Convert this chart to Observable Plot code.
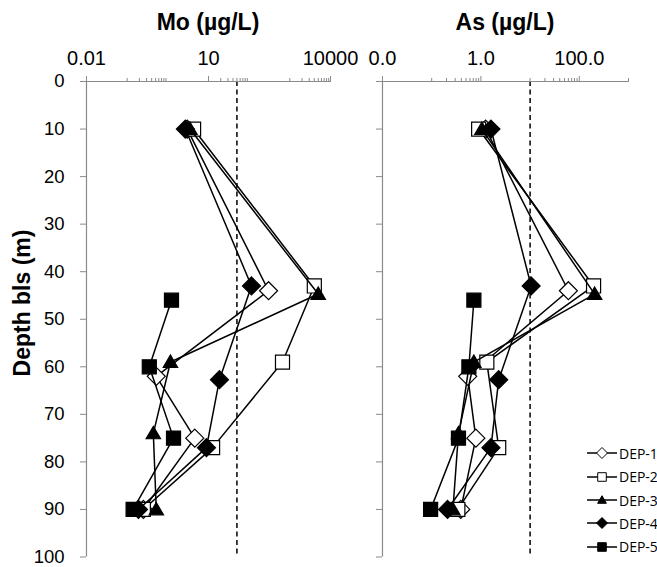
<!DOCTYPE html>
<html><head><meta charset="utf-8">
<script src="https://cdn.jsdelivr.net/npm/d3@7"></script>
<script src="https://cdn.jsdelivr.net/npm/@observablehq/plot@0.6"></script>
<style>
body{margin:0;background:#fff;}
#wrap{position:relative;width:657px;height:567px;overflow:hidden;font-family:"Liberation Sans",Arial,sans-serif;color:#000;}
#wrap svg.chart{position:absolute;left:0;top:0;}
.title{position:absolute;font-weight:bold;font-size:23px;line-height:23px;white-space:nowrap;transform:translateX(-50%);}
.ylab{position:absolute;font-weight:bold;font-size:23px;line-height:23px;white-space:nowrap;left:22px;top:303px;transform:translate(-50%,-50%) rotate(-90deg);}
.leg{position:absolute;left:586px;height:16px;display:flex;align-items:center;font-family:"Open Sans",sans-serif;font-size:14px;white-space:nowrap;}
.leg svg{display:block;}
</style></head>
<body><div id="wrap"></div>
<script>
// ---- data ----
const seriesNames = ["DEP-1","DEP-2","DEP-3","DEP-4","DEP-5"];
const dep1Depth = [10, 44, 62, 75, 90];
const dep1Mo    = [3.0, 300, 0.52, 4.6, 0.25];
const dep1As    = [1.25, 60, 0.54, 0.79, 0.39];
const dep2Depth = [10, 43, 59, 77, 90];
const dep2Mo    = [4.3, 4000, 660, 12.6, 0.25];
const dep2As    = [0.9, 195, 1.32, 2.3, 0.34];
const dep3Depth = [10, 44.7, 59, 74, 90];
const dep3Mo    = [3.5, 5000, 1.16, 0.44, 0.52];
const dep3As    = [1.05, 205, 0.72, 0.35, 0.27];
const dep4Depth = [10, 43, 62.7, 77, 90];
const dep4Mo    = [2.7, 114, 18.6, 8.9, 0.19];
const dep4As    = [1.6, 10.5, 2.3, 1.6, 0.21];
const dep5Depth = [46, 60, 75, 90];
const dep5Mo    = [1.23, 0.35, 1.38, 0.14];
const dep5As    = [0.72, 0.57, 0.35, 0.095];

const depthTicks = [0,10,20,30,40,50,60,70,80,90,100];
const moTicks = [0.01, 10, 10000];
const moMinor = [0.1,0.2,0.3,0.4,0.5,0.6,0.7,0.8,0.9,20,30,40,50,60,70,80,90,1000,2000,3000,4000,5000,6000,7000,8000,9000];
const asTicks = [0.01, 1, 100];
const asMinor = [0.1,0.2,0.3,0.4,0.5,0.6,0.7,0.8,0.9,10,20,30,40,50,60,70,80,90,1000];
const moLimit = 50;
const asLimit = 10;

// ---- build rows ----
const depthArrs = [dep1Depth, dep2Depth, dep3Depth, dep4Depth, dep5Depth];
const moArrs = [dep1Mo, dep2Mo, dep3Mo, dep4Mo, dep5Mo];
const asArrs = [dep1As, dep2As, dep3As, dep4As, dep5As];
const rows = seriesNames.map((s, i) => depthArrs[i].map((d, j) => ({series: s, depth: d, mo: moArrs[i][j], as: asArrs[i][j]})));

// ---- symbols ----
const symDiamond = {draw(c, size){const r=Math.sqrt(size/Math.PI); c.moveTo(0,-r); c.lineTo(r,0); c.lineTo(0,r); c.lineTo(-r,0); c.closePath();}};
const symSquare = {draw(c, size){const r=Math.sqrt(size/Math.PI)*0.78; c.moveTo(-r,-r); c.lineTo(r,-r); c.lineTo(r,r); c.lineTo(-r,r); c.closePath();}};
const symTriangle = {draw(c, size){const r=Math.sqrt(size/Math.PI); c.moveTo(0,-0.78*r); c.lineTo(0.8*r,0.6*r); c.lineTo(-0.8*r,0.6*r); c.closePath();}};
const seriesSym = [symDiamond, symSquare, symTriangle, symDiamond, symSquare];
const seriesFill = ["white","white","black","black","black"];

const W = 657, H = 567;
const font = "Liberation Sans, Arial, sans-serif";

function panel(key, domain, ticks, minor, fmt, limit, left, right) {
  const marks = [
    Plot.ruleX([limit], {stroke:"black", strokeWidth:1.5, strokeDasharray:"5,3.5"}),
    Plot.ruleY([0], {stroke:"#8a8a8a", strokeWidth:1.2}),
    Plot.ruleX([domain[0]], {stroke:"#8a8a8a", strokeWidth:1.2}),
    Plot.axisY(depthTicks, {anchor:"left", tickSize:6, tickPadding:16, fontSize:18.5, stroke:"#8a8a8a", fill:"black", label:null,
      tickFormat: key === "mo" ? (d => String(d)) : (() => "")}),
    Plot.axisX(ticks, {anchor:"top", tickSize:6, tickPadding:11, fontSize:20, stroke:"#8a8a8a", fill:"black", label:null, tickFormat: fmt}),
    Plot.axisX(minor, {anchor:"top", tickSize:4, stroke:"#8a8a8a", label:null, tickFormat: () => ""})
  ];
  rows.forEach((r, i) => {
    marks.push(Plot.line(r, {x:key, y:"depth", stroke:"black", strokeWidth:1.5}));
    marks.push(Plot.dot(r, {x:key, y:"depth", r:9, symbol: seriesSym[i], fill: seriesFill[i], stroke:"black", strokeWidth:1.2}));
  });
  const svg = Plot.plot({
    width: W, height: H,
    marginLeft: left, marginRight: W - right, marginTop: 81, marginBottom: 10.5,
    style: {background:"transparent", overflow:"visible", fontFamily: font, color:"black"},
    x: {type:"log", domain},
    y: {domain:[0,100], reverse:true},
    marks
  });
  svg.classList.add("chart");
  return svg;
}

const wrap = document.getElementById("wrap");
wrap.appendChild(panel("mo", [0.01, 10000], moTicks, moMinor, d => String(d), moLimit, 86, 330));
wrap.appendChild(panel("as", [0.01, 1000], asTicks, asMinor, d => d.toFixed(1), asLimit, 382, 628));

function addDiv(cls, text, style) {
  const d = document.createElement("div");
  d.className = cls; d.textContent = text;
  Object.assign(d.style, style || {});
  wrap.appendChild(d);
  return d;
}
addDiv("title", "Mo (µg/L)", {left:"208px", top:"11px"});
addDiv("title", "As (µg/L)", {left:"505px", top:"11px"});
addDiv("ylab", "Depth bls (m)");

// legend
const legY = [453.3, 476.7, 500, 523.3, 546.7];
seriesNames.forEach((s, i) => {
  const d = document.createElement("div");
  d.className = "leg";
  d.style.top = (legY[i] - 8) + "px";
  const p = d3.path();
  seriesSym[i].draw(p, Math.PI * 5.5 * 5.5);
  d.innerHTML = `<svg width="33" height="16" viewBox="-16 -8 33 16"><line x1="-15" x2="15" y1="0" y2="0" stroke="black" stroke-width="1.5"/><path d="${p.toString()}" fill="${seriesFill[i]}" stroke="black" stroke-width="1"/></svg><span>${s}</span>`;
  wrap.appendChild(d);
});
</script>
</body></html>
